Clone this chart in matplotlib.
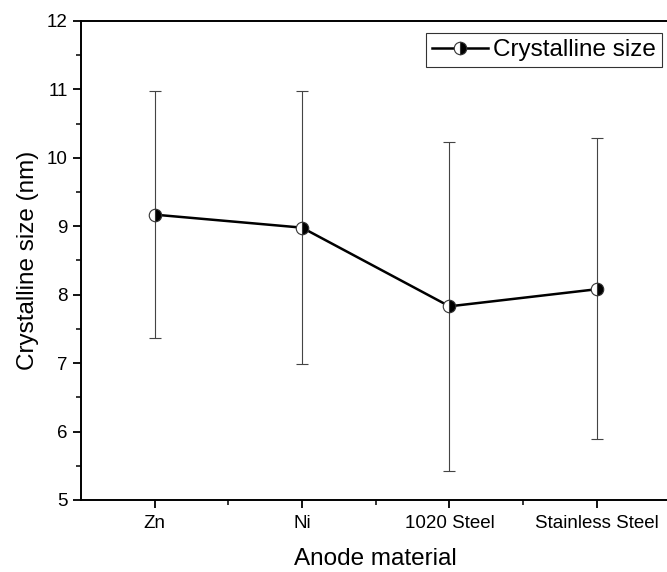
import numpy as np
import matplotlib
matplotlib.use('Agg')
import matplotlib.pyplot as plt
from matplotlib.ticker import MultipleLocator

plt.rcParams['font.family'] = ['Liberation Sans', 'DejaVu Sans']

# data
materials = ['Zn', 'Ni', '1020 Steel', 'Stainless Steel']
size_nm = [9.17, 8.98, 7.83, 8.08]
err_upper = [10.97, 10.97, 10.23, 10.29]
err_lower = [7.36, 6.98, 5.43, 5.89]

x = np.arange(1, len(materials) + 1)
yerr = [np.array(size_nm) - np.array(err_lower),
        np.array(err_upper) - np.array(size_nm)]

fig = plt.figure(figsize=(6.67, 5.72), dpi=100)
ax = fig.add_axes([0.1214, 0.1259, 0.8838, 0.8374])

ax.errorbar(x, size_nm, yerr=yerr, fmt='none', ecolor='#444444',
            elinewidth=0.8, capsize=4, capthick=0.8, zorder=2)
ax.plot(x, size_nm, color='black', lw=1.8, marker='o', markersize=9,
        fillstyle='right', markerfacecolor='black', markerfacecoloralt='white',
        markeredgecolor='#333333', markeredgewidth=0.8,
        label='Crystalline size', zorder=3)

ax.set_xlim(0.5, 4.5)
ax.set_ylim(5, 12)
ax.set_xticks(x)
ax.set_xticklabels(materials)
ax.set_xticks([1.5, 2.5, 3.5], minor=True)
ax.yaxis.set_major_locator(MultipleLocator(1))
ax.yaxis.set_minor_locator(MultipleLocator(0.5))
ax.tick_params(which='major', direction='out', length=6, width=1.3,
               labelsize=13.5)
ax.tick_params(axis='x', which='major', pad=5)
ax.tick_params(which='minor', direction='out', length=3.5, width=1.1)
for s in ax.spines.values():
    s.set_linewidth(1.4)

ax.set_xlabel('Anode material', fontsize=17.5, labelpad=11)
ax.set_ylabel('Crystalline size (nm)', fontsize=17.5, labelpad=6)

leg = ax.legend(loc='upper left', bbox_to_anchor=(0.585, 0.975),
                fontsize=17.5, frameon=True, fancybox=False,
                handlelength=2.3, handletextpad=0.2, borderpad=0.25,
                borderaxespad=0)
leg.get_frame().set_edgecolor('black')
leg.get_frame().set_linewidth(0.8)

fig.savefig('out.png', dpi=100)
